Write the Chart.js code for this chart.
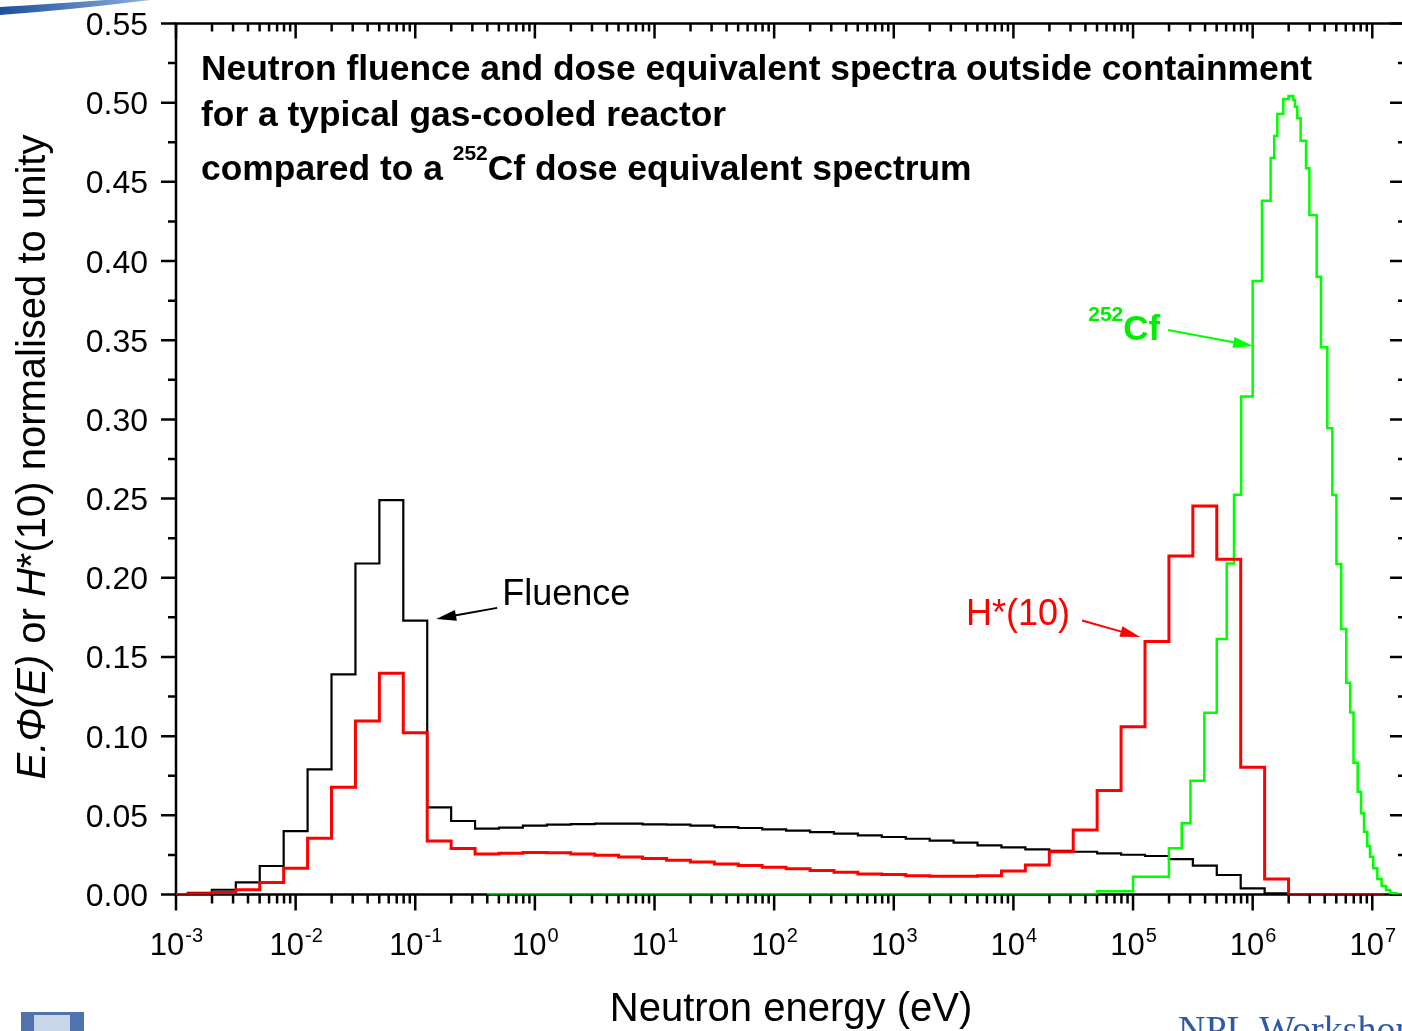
<!DOCTYPE html>
<html>
<head>
<meta charset="utf-8">
<title>Neutron fluence and dose equivalent spectra</title>
<style>
  html, body { margin: 0; padding: 0; background: #fff; overflow: hidden; }
  #wrap { position: relative; width: 1412px; height: 1031px; }
</style>
</head>
<body>
<div id="wrap"><canvas id="myChart" width="1412" height="1031"></canvas></div>
<script src="https://cdn.jsdelivr.net/npm/chart.js@4.4.1/dist/chart.umd.min.js"></script>
<script>
/* Data section - bin edges are log10(E / eV) */
var reactorEdges = [-3, -2.9, -2.7, -2.5, -2.3, -2.1, -1.9, -1.7, -1.5, -1.3, -1.1, -0.9, -0.7, -0.5, -0.3, -0.1,
    0.1, 0.3, 0.5, 0.7, 0.9, 1.1, 1.3, 1.5, 1.7, 1.9, 2.1, 2.3, 2.5, 2.7, 2.9, 3.1, 3.3, 3.5, 3.7, 3.9,
    4.1, 4.3, 4.5, 4.7, 4.9, 5.1, 5.3, 5.5, 5.7, 5.9, 6.1, 6.3, 7.1];
var fluenceValues = [0, 0.001, 0.003, 0.0077, 0.018, 0.040, 0.079, 0.139, 0.209, 0.249, 0.173, 0.055,
    0.0464, 0.0416, 0.0422, 0.0435, 0.0441, 0.0445, 0.0447, 0.0447, 0.0443, 0.0441, 0.0435, 0.0426,
    0.042, 0.0411, 0.0403, 0.0394, 0.0384, 0.0373, 0.0363, 0.0352, 0.034, 0.0327, 0.031, 0.0297,
    0.0285, 0.0276, 0.027, 0.026, 0.0251, 0.0243, 0.0224, 0.0182, 0.0123, 0.0039, 0.0008, 0];
var doseValues = [0, 0.0005, 0.0012, 0.003, 0.0075, 0.0165, 0.0355, 0.0677, 0.1096, 0.1397, 0.1022, 0.0338,
    0.029, 0.0256, 0.026, 0.0266, 0.0264, 0.0256, 0.0248, 0.0237, 0.0227, 0.0216, 0.0206, 0.0193,
    0.0183, 0.0172, 0.0162, 0.0151, 0.014, 0.013, 0.0126, 0.0119, 0.0115, 0.0115, 0.0119, 0.0148,
    0.0187, 0.027, 0.0407, 0.0656, 0.106, 0.1597, 0.2138, 0.2453, 0.2117, 0.0803, 0.0098, 0];
var cfEdges = [-0.4, 4.7, 5.0, 5.3, 5.407, 5.48, 5.596, 5.70, 5.783, 5.844, 5.904, 6.0, 6.078, 6.15, 6.18,
    6.206, 6.256, 6.30, 6.34, 6.354, 6.373, 6.401, 6.446, 6.474, 6.535, 6.571, 6.624, 6.666, 6.70, 6.74,
    6.782, 6.815, 6.843, 6.878, 6.906, 6.931, 6.958, 6.981, 7.008, 7.042, 7.078, 7.115, 7.148, 7.204, 7.265];
var cfValues = [0, 0.002, 0.0112, 0.0292, 0.045, 0.0719, 0.1148, 0.1613, 0.209, 0.2525, 0.3144, 0.3874,
    0.4381, 0.4651, 0.479, 0.4929, 0.5023, 0.5042, 0.5017, 0.4975, 0.4901, 0.476, 0.4586, 0.4291,
    0.3901, 0.3455, 0.2944, 0.2523, 0.2087, 0.1677, 0.1337, 0.115, 0.0832, 0.0649, 0.0513, 0.0397,
    0.0306, 0.0239, 0.0165, 0.0098, 0.0054, 0.0028, 0.0008, 0];
var xTickExponents = ['-3', '-2', '-1', '0', '1', '2', '3', '4', '5', '6', '7'];
var yTickLabels = ['0.00', '0.05', '0.10', '0.15', '0.20', '0.25', '0.30', '0.35', '0.40', '0.45', '0.50', '0.55'];

var FONT = '"Liberation Sans", Arial, Helvetica, sans-serif';

// histogram -> points for a stepped line (value held from the left edge)
function histPoints(edges, values) {
    var pts = [];
    for (var i = 0; i < values.length; i++) {
        pts.push({ x: Math.pow(10, edges[i]), y: values[i] });
    }
    pts.push({ x: Math.pow(10, edges[edges.length - 1]), y: values[values.length - 1] });
    return pts;
}

function arrow(ctx, x1, y1, x2, y2, color) {
    var a = Math.atan2(y2 - y1, x2 - x1), len = 20, half = 5.5;
    var c = Math.cos(a), s = Math.sin(a);
    ctx.strokeStyle = color;
    ctx.fillStyle = color;
    ctx.lineWidth = 2;
    ctx.beginPath();
    ctx.moveTo(x1, y1);
    ctx.lineTo(x2 - c * len * 0.8, y2 - s * len * 0.8);
    ctx.stroke();
    ctx.beginPath();
    ctx.moveTo(x2, y2);
    ctx.lineTo(x2 - c * len + s * half, y2 - s * len - c * half);
    ctx.lineTo(x2 - c * len - s * half, y2 - s * len + c * half);
    ctx.closePath();
    ctx.fill();
}

/* Frame, ticks and labels */
var framePlugin = {
    id: 'frame',
    beforeDatasetsDraw: function (chart) {
        var ctx = chart.ctx, a = chart.chartArea;
        var xs = chart.scales.x, ys = chart.scales.y;
        ctx.save();
        ctx.strokeStyle = '#000';
        ctx.lineWidth = 2.5;
        ctx.strokeRect(a.left, a.top, a.right - a.left, a.bottom - a.top);

        ctx.beginPath();
        // log ticks on bottom (outward) and top (inward)
        for (var d = -3; d <= 7; d++) {
            for (var m = 1; m <= 9; m++) {
                var v = m * Math.pow(10, d);
                if (v < xs.min || v > xs.max) continue;
                var px = xs.getPixelForValue(v);
                var len = m === 1 ? 16 : 9;
                ctx.moveTo(px, a.bottom); ctx.lineTo(px, a.bottom + len);
                ctx.moveTo(px, a.top); ctx.lineTo(px, a.top + (m === 1 ? 15 : 8));
            }
        }
        // linear ticks on left (outward) and right (inward)
        for (var i = 0; i < yTickLabels.length; i++) {
            var val = parseFloat(yTickLabels[i]);
            var py = ys.getPixelForValue(val);
            ctx.moveTo(a.left - 15, py); ctx.lineTo(a.left, py);
            ctx.moveTo(a.right - 14, py); ctx.lineTo(a.right, py);
            if (i < yTickLabels.length - 1) {
                var pm = ys.getPixelForValue(val + 0.025);
                ctx.moveTo(a.left - 8, pm); ctx.lineTo(a.left, pm);
                ctx.moveTo(a.right - 6, pm); ctx.lineTo(a.right, pm);
            }
        }
        ctx.stroke();

        // tick labels
        ctx.fillStyle = '#000';
        ctx.textBaseline = 'alphabetic';
        ctx.textAlign = 'right';
        ctx.font = '32px ' + FONT;
        yTickLabels.forEach(function (t) {
            ctx.fillText(t, a.left - 28, ys.getPixelForValue(parseFloat(t)) + 11.5);
        });
        ctx.textAlign = 'left';
        xTickExponents.forEach(function (e) {
            var px = xs.getPixelForValue(Math.pow(10, parseInt(e, 10)));
            ctx.font = '31px ' + FONT;
            var w1 = ctx.measureText('10').width;
            ctx.font = '20px ' + FONT;
            var w2 = ctx.measureText(e).width;
            var x0 = px - (w1 + w2) / 2;
            ctx.font = '31px ' + FONT;
            ctx.fillText('10', x0, a.bottom + 60);
            ctx.font = '20px ' + FONT;
            ctx.fillText(e, x0 + w1 + 1, a.bottom + 47);
        });

        // axis titles
        ctx.textAlign = 'center';
        ctx.font = '40px ' + FONT;
        ctx.fillText('Neutron energy (eV)', (a.left + 1402) / 2 + 2, 1021);

        var parts = [
            { t: 'E.\u03A6(E)', f: 'italic 40px ' + FONT },
            { t: ' or ', f: '40px ' + FONT },
            { t: 'H', f: 'italic 40px ' + FONT },
            { t: '*(10) normalised to unity', f: '40px ' + FONT }
        ];
        var total = 0;
        parts.forEach(function (p) { ctx.font = p.f; p.w = ctx.measureText(p.t).width; total += p.w; });
        ctx.translate(45, 457);
        ctx.rotate(-Math.PI / 2);
        ctx.textAlign = 'left';
        var cx = -total / 2;
        parts.forEach(function (p) { ctx.font = p.f; ctx.fillText(p.t, cx, 0); cx += p.w; });
        ctx.restore();
    },
    afterDraw: function (chart) {
        var ctx = chart.ctx;
        var xs = chart.scales.x, ys = chart.scales.y;
        ctx.save();
        ctx.textBaseline = 'alphabetic';
        ctx.textAlign = 'left';
        ctx.fillStyle = '#000';

        // title block inside the plot
        ctx.font = 'bold 35.4px ' + FONT;
        ctx.fillText('Neutron fluence and dose equivalent spectra outside containment', 201, 80);
        ctx.fillText('for a typical gas-cooled reactor', 201, 126);
        var x = 201;
        ctx.fillText('compared to a ', x, 180);
        x += ctx.measureText('compared to a ').width;
        ctx.font = 'bold 21px ' + FONT;
        ctx.fillText('252', x, 160);
        x += ctx.measureText('252').width;
        ctx.font = 'bold 35.4px ' + FONT;
        ctx.fillText('Cf dose equivalent spectrum', x, 180);

        function P(ex, ey) { return [xs.getPixelForValue(ex), ys.getPixelForValue(ey)]; }

        // Fluence label
        var tip = P(0.1496, 0.174), tail = P(0.484, 0.181);
        arrow(ctx, tail[0], tail[1], tip[0], tip[1], '#000');
        ctx.font = '36px ' + FONT;
        ctx.fillStyle = '#000';
        ctx.fillText('Fluence', tail[0] + 5, tail[1] - 3);

        // H*(10) label
        tip = P(1.148e5, 0.1626); tail = P(3.75e4, 0.173);
        arrow(ctx, tail[0], tail[1], tip[0], tip[1], '#ff0000');
        ctx.fillStyle = '#ff0000';
        ctx.textAlign = 'right';
        ctx.fillText('H*(10)', tail[0] - 12, tail[1] + 4);

        // 252Cf label
        tip = P(1.009e6, 0.3463); tail = P(1.968e5, 0.3565);
        arrow(ctx, tail[0], tail[1], tip[0], tip[1], '#00ff00');
        ctx.fillStyle = '#00ee00';
        ctx.font = 'bold 35px ' + FONT;
        ctx.fillText('Cf', tail[0] - 8, tail[1] + 10);
        var wcf = ctx.measureText('Cf').width;
        ctx.font = 'bold 21px ' + FONT;
        ctx.fillText('252', tail[0] - 8 - wcf, tail[1] - 9);

        // slide decoration
        ctx.textAlign = 'left';
        var g = ctx.createLinearGradient(0, 0, 150, 0);
        g.addColorStop(0, '#1d4f9c');
        g.addColorStop(1, '#8fb0dc');
        ctx.fillStyle = g;
        ctx.beginPath();
        ctx.moveTo(0, 15);
        ctx.quadraticCurveTo(70, 10, 150, 0);
        ctx.lineTo(105, 0);
        ctx.quadraticCurveTo(50, 4, 0, 7);
        ctx.closePath();
        ctx.fill();

        ctx.fillStyle = '#4f73ad';
        ctx.fillRect(21, 1012, 63, 19);
        ctx.fillStyle = '#c9d6ea';
        ctx.fillRect(34, 1015, 36, 16);

        ctx.fillStyle = '#2f58a8';
        ctx.font = '38px "Liberation Serif", "Times New Roman", serif';
        ctx.fillText('NPL Workshop', 1178, 1042);
        ctx.restore();
    }
};

/* Chart section */
var ctx = document.getElementById('myChart').getContext('2d');
var myChart = new Chart(ctx, {
    type: 'scatter',
    data: {
        datasets: [{
            label: 'H*(10)',
            data: histPoints(reactorEdges, doseValues),
            borderColor: '#ff0000',
            borderWidth: 3
        }, {
            label: '252Cf',
            data: histPoints(cfEdges, cfValues),
            borderColor: '#00ff00',
            borderWidth: 2.5
        }, {
            label: 'Fluence',
            data: histPoints(reactorEdges, fluenceValues),
            borderColor: '#000000',
            borderWidth: 2.2
        }]
    },
    options: {
        responsive: false,
        animation: false,
        showLine: true,
        elements: {
            point: { radius: 0, hoverRadius: 0 },
            line: { stepped: 'before', tension: 0, fill: false, borderJoinStyle: 'miter', borderCapStyle: 'butt' }
        },
        layout: { padding: { left: 176, top: 23.5, right: 8, bottom: 136.5 } },
        plugins: { legend: { display: false }, tooltip: { enabled: false } },
        scales: {
            x: { type: 'logarithmic', display: false, min: 1e-3, max: Math.pow(10, 7.265) },
            y: { type: 'linear', display: false, min: 0, max: 0.55 }
        }
    },
    plugins: [framePlugin]
});
</script>
</body>
</html>
